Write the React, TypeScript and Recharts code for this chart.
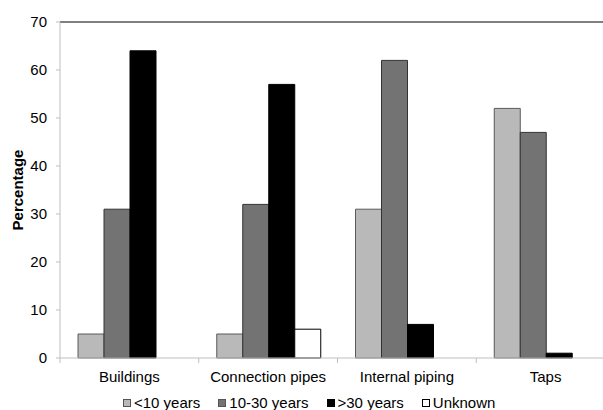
import { BarChart, Bar, XAxis, YAxis, Legend, ReferenceLine } from 'recharts';

const categories = ['Buildings', 'Connection pipes', 'Internal piping', 'Taps'];
const under10 = [5, 5, 31, 52];
const from10to30 = [31, 32, 62, 47];
const over30 = [64, 57, 7, 1];
const unknown = [0, 6, 0, 0];
const yTicks = [0, 10, 20, 30, 40, 50, 60, 70];

const series = [
    { key: 'lt10', name: '<10 years', fill: '#b9b9b9', stroke: '#5a5a5a' },
    { key: 'mid', name: '10-30 years', fill: '#737373', stroke: '#333333' },
    { key: 'gt30', name: '>30 years', fill: '#000000', stroke: '#000000' },
    { key: 'unk', name: 'Unknown', fill: '#ffffff', stroke: '#000000' },
];

const data = categories.map((name, i) => ({
    name,
    lt10: under10[i],
    mid: from10to30[i],
    gt30: over30[i],
    unk: unknown[i],
}));

const FONT = '"Liberation Sans", Arial, sans-serif';
const CHART_W = 620;
const PLOT_LEFT = 60;
const PLOT_RIGHT = 5;
const band = (CHART_W - PLOT_LEFT - PLOT_RIGHT) / categories.length;

// category label plus a boundary tick on the left side of each band
function CategoryTick(props: any) {
    const { x, y, payload } = props;
    const axisY = y - 7;
    const left = x - band / 2;
    return (
        <g>
            <line x1={left} y1={axisY} x2={left} y2={axisY + 5} stroke="#bfbfbf" />
            <text x={x} y={y + 17} textAnchor="middle" fontSize={15} fontFamily={FONT} fill="#000">
                {payload.value}
            </text>
        </g>
    );
}

function LegendContent() {
    return (
        <div
            style={{
                display: 'flex',
                marginLeft: 123,
                paddingTop: 4,
                fontFamily: FONT,
                fontSize: 15,
                color: '#000',
                lineHeight: '22px',
            }}
        >
            {series.map((s) => (
                <div key={s.key} style={{ display: 'flex', alignItems: 'center', marginRight: 18 }}>
                    <span
                        style={{
                            display: 'inline-block',
                            boxSizing: 'border-box',
                            width: 8,
                            height: 8,
                            background: s.fill,
                            border: `1px solid ${s.stroke === '#000000' ? '#000' : '#555'}`,
                            marginRight: 3,
                        }}
                    />
                    <span>{s.name}</span>
                </div>
            ))}
        </div>
    );
}

export default function App() {
    return (
        <div style={{ position: 'fixed', left: 0, top: 0, width: 603, height: 410, overflow: 'hidden', background: '#fff' }}>
            <BarChart
                width={CHART_W}
                height={410}
                data={data}
                margin={{ top: 22, right: PLOT_RIGHT, bottom: 0, left: 0 }}
                barCategoryGap={18}
                barGap={0}
            >
                <XAxis
                    dataKey="name"
                    height={30}
                    stroke="#bfbfbf"
                    tickLine={false}
                    tickSize={5}
                    tickMargin={2}
                    tick={<CategoryTick />}
                    interval={0}
                />
                <YAxis
                    width={PLOT_LEFT}
                    domain={[0, 70]}
                    ticks={yTicks}
                    interval={0}
                    stroke="#bfbfbf"
                    tickSize={4}
                    tickMargin={9}
                    tick={{ fill: '#000', fontSize: 15, fontFamily: FONT }}
                    label={{
                        value: 'Percentage',
                        angle: -90,
                        position: 'insideLeft',
                        offset: 18,
                        style: { textAnchor: 'middle', fontWeight: 'bold', fontSize: 15, fontFamily: FONT, fill: '#000' },
                    }}
                />
                <ReferenceLine y={70} stroke="#808080" strokeWidth={2} />
                <Legend verticalAlign="bottom" height={22} content={<LegendContent />} />
                {series.map((s) => (
                    <Bar
                        key={s.key}
                        dataKey={s.key}
                        name={s.name}
                        fill={s.fill}
                        stroke={s.stroke}
                        strokeWidth={1}
                        isAnimationActive={false}
                    />
                ))}
            </BarChart>
        </div>
    );
}
